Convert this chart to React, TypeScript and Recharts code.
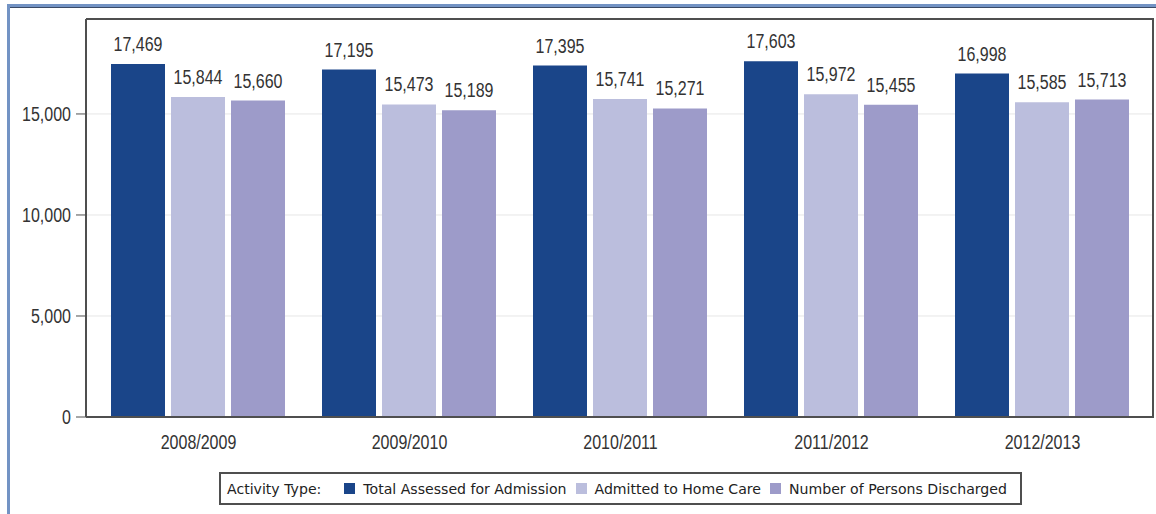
import { BarChart, Bar, XAxis, YAxis, CartesianGrid, LabelList } from "recharts";

const years = ["2008/2009", "2009/2010", "2010/2011", "2011/2012", "2012/2013"];
const totalAssessed = [17469, 17195, 17395, 17603, 16998];
const admittedHomeCare = [15844, 15473, 15741, 15972, 15585];
const personsDischarged = [15660, 15189, 15271, 15455, 15713];
const yTicks = [0, 5000, 10000, 15000];

const series = [
  { key: "assessed", name: "Total Assessed for Admission", color: "#1a4589" },
  { key: "admitted", name: "Admitted to Home Care", color: "#bbbedd" },
  { key: "discharged", name: "Number of Persons Discharged", color: "#9d9bc9" },
];

const rows = years.map((year, i) => ({
  year,
  assessed: totalAssessed[i],
  admitted: admittedHomeCare[i],
  discharged: personsDischarged[i],
}));

const frame = "#4f4f4f";
const fmt = (v: any) => Number(v).toLocaleString("en-US");

// the original uses a tall narrow face; squeeze Liberation Sans horizontally
function NarrowText({ x, y, anchor, dy, children }: any) {
  return (
    <text
      transform={`translate(${x},${y}) scale(0.8,1)`}
      textAnchor={anchor}
      dy={dy}
      fill="#333"
      fontSize={20}
      fontFamily='"Liberation Sans", Arial, sans-serif'
    >
      {children}
    </text>
  );
}

const YTick = (p: any) => (
  <NarrowText x={p.x} y={p.y} anchor="end" dy="0.355em">
    {fmt(p.payload.value)}
  </NarrowText>
);

const XTick = (p: any) => (
  <NarrowText x={p.x} y={p.y} anchor="middle" dy="0.71em">
    {p.payload.value}
  </NarrowText>
);

const ValueLabel = (p: any) => (
  <NarrowText x={p.x + p.width / 2} y={p.y - 13} anchor="middle" dy={0}>
    {fmt(p.value)}
  </NarrowText>
);

export default function App() {
  return (
    <div
      style={{
        position: "absolute",
        left: 0,
        top: 0,
        width: 1156,
        height: 514,
        background: "#fff",
        overflow: "hidden",
      }}
    >
      {/* outer blue frame */}
      <div style={{ position: "absolute", left: 7, top: 4, width: 1149, height: 3, background: "#7393c4" }} />
      <div style={{ position: "absolute", left: 10, top: 7, width: 1146, height: 1, background: "#3a4a66" }} />
      <div style={{ position: "absolute", left: 7, top: 4, width: 3, height: 510, background: "#7393c4" }} />

      <BarChart
        width={1156}
        height={514}
        data={rows}
        margin={{ top: 19, right: 2, bottom: 67, left: 0 }}
        barCategoryGap={18}
        barGap={6}
      >
        <CartesianGrid vertical={false} stroke="#e6e6e6" />
        <XAxis
          dataKey="year"
          height={30}
          padding={{ left: 7, right: 6 }}
          tickLine={false}
          tickSize={0}
          tickMargin={18}
          axisLine={{ stroke: frame, strokeWidth: 2 }}
          tick={XTick}
        />
        <YAxis
          width={86}
          domain={[0, 19700]}
          ticks={yTicks}
          tickSize={10}
          tickMargin={5}
          axisLine={{ stroke: frame, strokeWidth: 2 }}
          tickLine={{ stroke: frame }}
          tick={YTick}
        />
        {series.map((s) => (
          <Bar key={s.key} dataKey={s.key} name={s.name} fill={s.color} isAnimationActive={false}>
            <LabelList dataKey={s.key} content={ValueLabel} />
          </Bar>
        ))}
      </BarChart>

      {/* top and right edges of the plot frame */}
      <div
        style={{
          position: "absolute",
          left: 86,
          top: 18,
          width: 1066,
          height: 398,
          borderTop: `2px solid ${frame}`,
          borderRight: `2px solid ${frame}`,
          pointerEvents: "none",
        }}
      />

      {/* legend */}
      <div
        style={{
          position: "absolute",
          left: 219,
          top: 472,
          width: 799,
          height: 29,
          border: `2px solid ${frame}`,
          display: "flex",
          alignItems: "center",
          fontFamily: '"DejaVu Sans", sans-serif',
          fontSize: 14.1,
          color: "#222",
          whiteSpace: "nowrap",
        }}
      >
        <span style={{ marginLeft: 6, marginRight: 23 }}>Activity Type:</span>
        {series.map((s) => (
          <span key={s.key} style={{ display: "flex", alignItems: "center", marginRight: 9 }}>
            <span style={{ width: 11, height: 11, background: s.color, marginRight: 8, display: "inline-block" }} />
            {s.name}
          </span>
        ))}
      </div>
    </div>
  );
}
